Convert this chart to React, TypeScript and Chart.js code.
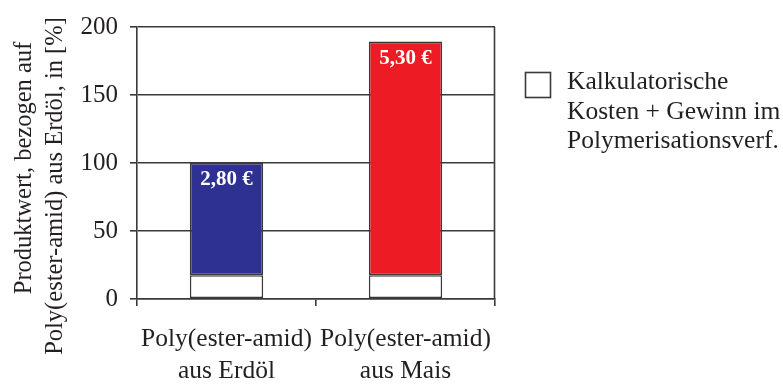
import React, { useEffect, useRef } from "react";
import { Chart, registerables } from "chart.js";

Chart.register(...registerables);

// Categories (two-line axis labels)
const categories: string[][] = [
  ["Poly(ester-amid)", "aus Erdöl"],
  ["Poly(ester-amid)", "aus Mais"],
];
// Product price in EUR per category
const pricesEUR = [2.8, 5.3];
// Calculated costs + profit in polymerisation, in % of the petroleum-based product value
const kalkKosten = [17.5, 17.5];
const barColors = ["#2e3192", "#ed1c24"];
const yTitle = ["Produktwert, bezogen auf", "Poly(ester-amid) aus Erdöl, in [%]"];
const legendLines = ["Kalkulatorische", "Kosten + Gewinn im", "Polymerisationsverf."];

// Product value relative to the petroleum-based product (= 100 %)
const produktwert = pricesEUR.map((p) => (p / pricesEUR[0]) * 100);
const restWert = produktwert.map((v, i) => v - kalkKosten[i]);
const priceLabels = pricesEUR.map((p) => p.toFixed(2).replace(".", ",") + " €");

const FONT = "'Liberation Serif', 'Times New Roman', serif";
const INK = "#231f20";
const LINE = "#3a3a3a";
const LINE_W = 1.6;

const overlayPlugin = {
  id: "overlay",
  beforeDatasetsDraw(chart: any) {
    const { ctx, chartArea } = chart;
    ctx.save();
    ctx.strokeStyle = LINE;
    ctx.lineWidth = LINE_W;
    ctx.beginPath();
    ctx.moveTo(chartArea.right - 0.5, chartArea.top);
    ctx.lineTo(chartArea.right - 0.5, chartArea.bottom);
    ctx.stroke();
    ctx.restore();
  },
  afterDatasetsDraw(chart: any) {
    const { ctx } = chart;
    const meta = chart.getDatasetMeta(1);
    ctx.save();
    ctx.fillStyle = "#ffffff";
    ctx.font = `bold 21px ${FONT}`;
    ctx.textAlign = "center";
    ctx.textBaseline = "alphabetic";
    meta.data.forEach((bar: any, i: number) => {
      ctx.fillText(priceLabels[i], bar.x, bar.y + 22);
    });
    ctx.restore();
  },
  afterDraw(chart: any) {
    const { ctx } = chart;
    // Rotated y-axis title
    ctx.save();
    ctx.fillStyle = INK;
    ctx.font = `24.5px ${FONT}`;
    ctx.textAlign = "center";
    ctx.textBaseline = "alphabetic";
    const titlePos = [
      { x: 31, y: 168 },
      { x: 62, y: 186 },
    ];
    yTitle.forEach((line, i) => {
      ctx.save();
      ctx.translate(titlePos[i].x, titlePos[i].y);
      ctx.rotate(-Math.PI / 2);
      ctx.fillText(line, 0, 0);
      ctx.restore();
    });
    ctx.restore();

    // Legend for the white segment
    ctx.save();
    ctx.fillStyle = "#ffffff";
    ctx.strokeStyle = LINE;
    ctx.lineWidth = LINE_W;
    ctx.fillRect(525, 72, 25, 25);
    ctx.strokeRect(525.5, 72.5, 25, 25);
    ctx.fillStyle = INK;
    ctx.font = `25.5px ${FONT}`;
    ctx.textAlign = "left";
    ctx.textBaseline = "alphabetic";
    legendLines.forEach((line, i) => {
      ctx.fillText(line, 567, 89 + i * 29.5);
    });
    ctx.restore();
  },
};

export default function App() {
  const canvasRef = useRef<HTMLCanvasElement | null>(null);

  useEffect(() => {
    document.body.style.margin = "0";
    const canvas = canvasRef.current;
    if (!canvas) return;
    const chart = new Chart(canvas, {
      type: "bar",
      data: {
        labels: categories,
        datasets: [
          {
            label: legendLines.join(" "),
            data: kalkKosten,
            backgroundColor: "#ffffff",
            borderColor: LINE,
            borderWidth: LINE_W,
            borderSkipped: false,
            categoryPercentage: 1,
            barPercentage: 0.41,
          },
          {
            label: "Produktwert",
            data: restWert,
            backgroundColor: barColors,
            borderColor: LINE,
            borderWidth: LINE_W,
            borderSkipped: false,
            categoryPercentage: 1,
            barPercentage: 0.41,
          },
        ],
      },
      options: {
        responsive: false,
        animation: false,
        devicePixelRatio: 1,
        layout: { padding: { top: 24, right: 288, left: 0, bottom: 0 } },
        plugins: {
          legend: { display: false },
          tooltip: { enabled: false },
        },
        scales: {
          x: {
            stacked: true,
            grid: {
              offset: true,
              drawOnChartArea: false,
              drawTicks: true,
              tickLength: 7,
              color: LINE,
              lineWidth: LINE_W,
            },
            border: { display: true, color: LINE, width: LINE_W },
            ticks: {
              color: INK,
              font: { family: FONT, size: 25.5, lineHeight: 1.255 },
              padding: 17,
              maxRotation: 0,
              autoSkip: false,
            },
            afterFit: (scale: any) => {
              scale.height = 86;
            },
          },
          y: {
            stacked: true,
            min: 0,
            max: 200,
            grid: {
              color: LINE,
              lineWidth: LINE_W,
              drawTicks: true,
              tickLength: 7,
            },
            border: { display: true, color: LINE, width: LINE_W },
            ticks: {
              stepSize: 50,
              color: INK,
              font: { family: FONT, size: 25 },
              padding: 12,
            },
            afterFit: (scale: any) => {
              scale.width = 137;
            },
          },
        },
      },
      plugins: [overlayPlugin],
    });
    return () => chart.destroy();
  }, []);

  return (
    <div style={{ width: 783, height: 385 }}>
      <canvas ref={canvasRef} width={783} height={385} />
    </div>
  );
}
